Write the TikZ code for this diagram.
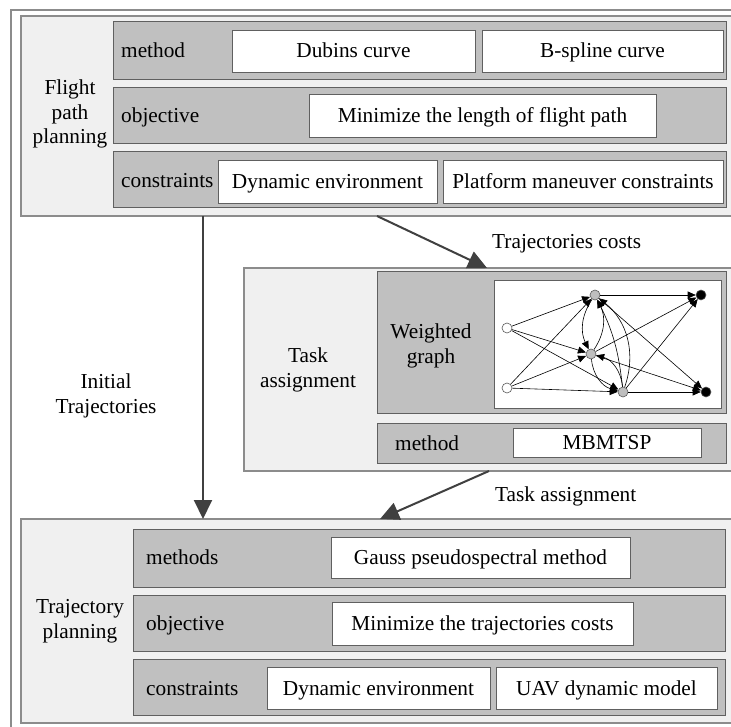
\documentclass[tikz,border=0pt]{standalone}
\usepackage{fontspec}
\setmainfont{Liberation Serif}
\usepackage{tikz}
\usetikzlibrary{arrows.meta,positioning,calc}
\definecolor{panelgray}{RGB}{240,240,240}
\definecolor{edgegray}{RGB}{140,140,140}
\definecolor{rowgray}{RGB}{192,192,192}
\definecolor{rowedge}{RGB}{96,96,96}
\definecolor{arrowgray}{RGB}{64,64,64}
\definecolor{nodegray}{RGB}{190,190,190}
\newcommand{\boxfont}{\fontsize{21.3}{24.5}\selectfont}

\begin{document}
\begin{tikzpicture}[x=1pt, y=-1pt,
    txt/.style={font=\boxfont, inner sep=0pt, align=center},
    rowtxt/.style={font=\boxfont, inner sep=0pt, anchor=west, text height=18pt, text depth=4pt},
    panel/.style={rectangle, fill=panelgray, draw=edgegray, line width=1.3pt,
                  inner sep=0pt, outer sep=0pt},
    rowbox/.style={rectangle, fill=rowgray, draw=rowedge, line width=1pt,
                   inner sep=0pt, outer sep=0pt},
    wbox/.style={rectangle, fill=white, draw=rowedge, line width=0.8pt,
                 inner sep=0pt, outer sep=0pt, font=\boxfont, align=center,
                 text height=18pt, text depth=4pt},
    bigarrow/.style={-{Triangle[length=19pt,width=18pt]}, line width=2pt, draw=arrowgray},
    gnode/.style={circle, minimum size=10pt, inner sep=0pt, draw=black!65, line width=0.6pt},
    garrow/.style={-{Triangle[length=8pt,width=7pt]}, line width=0.6pt}
  ]
    \useasboundingbox (0,0) rectangle (731,727);
    \fill[white] (0,0) rectangle (731,727);
    \clip (0,0) rectangle (731,727);

    % Outer frame
    \draw[edgegray, line width=1.3pt] (11,10) rectangle (745,740);

    % Flight path planning
    \node[panel, minimum width=724pt, minimum height=200pt] (fpp) at (383,116) {};
    \node[txt] (fpplab) at (70,114) {Flight\\path\\planning};
    \node[rowbox, minimum width=613pt, minimum height=58pt] (fmeth) at (419.5,51) {};
    \node[rowbox, minimum width=613pt, minimum height=56pt] (fobj) at (419.5,116) {};
    \node[rowbox, minimum width=613pt, minimum height=56pt] (fcon) at (419.5,180) {};
    \node[rowtxt] (fmethlab) at (121,51) {method};
    \node[rowtxt] (fobjlab) at (121,116) {objective};
    \node[rowtxt] (fconlab) at (121,181) {constraints};
    \node[wbox, minimum width=243pt, minimum height=42pt] (dub) at (353.5,51) {Dubins curve};
    \node[wbox, minimum width=241pt, minimum height=42pt] (bsp) at (602.5,51) {B-spline curve};
    \node[wbox, minimum width=347pt, minimum height=43pt] (minlen) at (482.5,115.5)
      {Minimize the length of flight path};
    \node[wbox, minimum width=219pt, minimum height=43pt] (dyn1) at (327.5,181.5)
      {Dynamic environment};
    \node[wbox, minimum width=280pt, minimum height=43pt] (plat) at (583,181.5)
      {Platform maneuver constraints};

    % Task assignment
    \node[panel, minimum width=501pt, minimum height=203pt] (ta) at (494.5,369.5) {};
    \node[txt] (talab) at (308,370) {Task\\assignment};
    \node[rowbox, minimum width=349pt, minimum height=141pt] (wg) at (551.5,342.5) {};
    \node[rowbox, minimum width=349pt, minimum height=40pt] (tmeth) at (551.5,443) {};
    \node[txt] (wglab) at (431,346) {Weighted\\graph};
    \node[rowtxt] (tmethlab) at (395,443) {method};
    \node[wbox, minimum width=227pt, minimum height=128pt] (gbox) at (607.5,344) {};
    \node[wbox, minimum width=188pt, minimum height=29pt] (mbm) at (607,442.5) {MBMTSP};

    % Weighted graph
    \node[gnode, fill=white] (a1) at (507,328) {};
    \node[gnode, fill=white] (a2) at (507,388) {};
    \node[gnode, fill=nodegray] (g1) at (595,295) {};
    \node[gnode, fill=nodegray] (g2) at (591,354) {};
    \node[gnode, fill=nodegray] (g3) at (623,392) {};
    \node[gnode, fill=black] (t1) at (701,295) {};
    \node[gnode, fill=black] (t2) at (706,392) {};
    \foreach \s/\t in {a1/g1,a1/g2,a1/g3,a2/g1,a2/g2,a2/g3,
                       g1/t1,g1/t2,g2/t1,g2/t2,g3/t1,g3/t2}
      \draw[garrow] (\s) -- (\t);
    \draw[garrow] (g1) to[bend right=30] (g2);
    \draw[garrow] (g2) to[bend right=30] (g1);
    \draw[garrow] (g2) to[bend right=35] (g3);
    \draw[garrow] (g3) to[bend right=35] (g2);
    \draw[garrow] (g3) to[bend right=10] (g1);
    \draw[garrow] (g3) to[bend right=35] (g1);

    % Trajectory planning
    \node[panel, minimum width=724pt, minimum height=204pt] (tp) at (383,621) {};
    \node[txt] (tplab) at (80,621) {Trajectory\\planning};
    \node[rowbox, minimum width=592pt, minimum height=58pt] (tpmeth) at (429,558) {};
    \node[rowbox, minimum width=592pt, minimum height=56pt] (tpobj) at (429,623) {};
    \node[rowbox, minimum width=592pt, minimum height=56pt] (tpcon) at (429,687) {};
    \node[rowtxt] (tpmethlab) at (146,557) {methods};
    \node[rowtxt] (tpobjlab) at (146,623) {objective};
    \node[rowtxt] (tpconlab) at (146,688) {constraints};
    \node[wbox, minimum width=299pt, minimum height=41pt] (gauss) at (480.5,557.5)
      {Gauss pseudospectral method};
    \node[wbox, minimum width=301pt, minimum height=43pt] (mincost) at (482.5,623.5)
      {Minimize the trajectories costs};
    \node[wbox, minimum width=223pt, minimum height=42pt] (dyn2) at (378.5,688)
      {Dynamic environment};
    \node[wbox, minimum width=221pt, minimum height=42pt] (uav) at (606.5,688)
      {UAV dynamic model};

    % Arrows between panels
    \coordinate (itx) at (203,0);
    \coordinate (tcs) at (377,0);
    \coordinate (tce) at (487,0);
    \coordinate (tas) at (489,0);
    \coordinate (tae) at (380,0);
    \draw[bigarrow] (itx |- fpp.south) -- (itx |- tp.north);
    \draw[bigarrow] (tcs |- fpp.south) -- (tce |- ta.north);
    \draw[bigarrow] (tas |- ta.south) -- (tae |- tp.north);

    % Arrow labels
    \node[txt] (itlab) at (106,396) {Initial\\Trajectories};
    \node[txt, anchor=west] (tclab) at (492,244) {Trajectories costs};
    \node[txt, anchor=west] (talab2) at (495,496) {Task assignment};
\end{tikzpicture}
\end{document}
